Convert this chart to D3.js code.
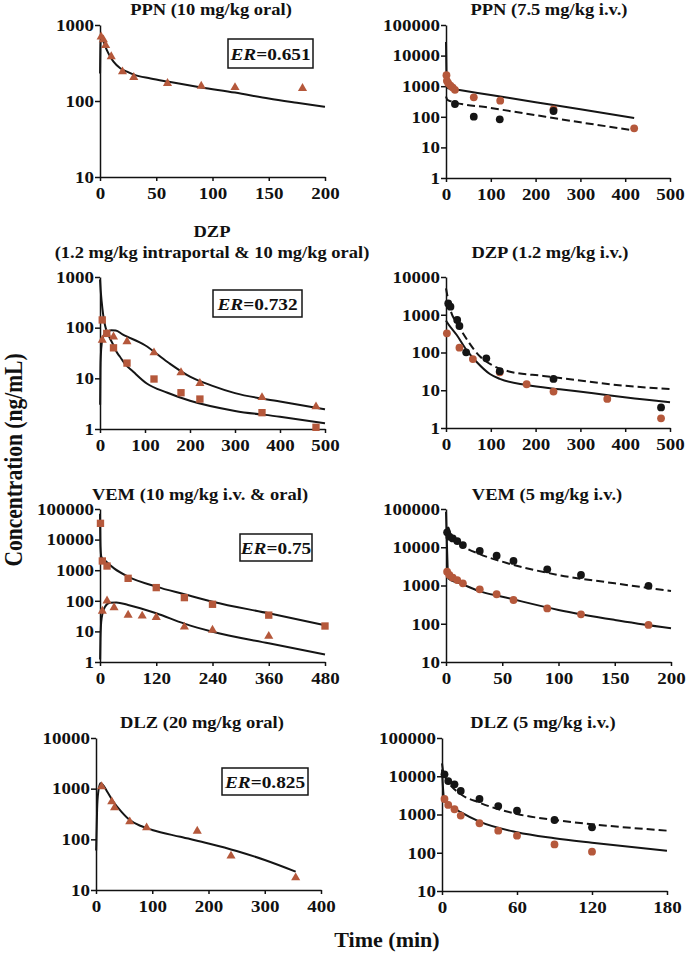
<!DOCTYPE html>
<html lang="en">
<head>
  <meta charset="UTF-8">
  <title>PK profiles</title>
  <script src="https://cdn.jsdelivr.net/npm/d3@7"></script>
  <style type="text/css">
    body { margin:0; background:#fff; }
    svg { display:block; }
    text { font-family: "Liberation Serif", "Times New Roman", serif; font-weight: bold; fill:#111; }
    .axis path, .axis line { stroke:#111; stroke-width:1.5px; }
  </style>
</head>
<body>
<svg id="chart" width="686" height="956"></svg>
<script>

  const rust = '#b5583b', ink = '#151515';

  // PPN 10 mg/kg oral
  const ppnOralObs = [[1,700],[3,640],[5,540],[10,385],[20,243],[30,205],[60,171],[90,157],[120,151],[180,147]];
  const ppnOralFit = [[0.05,230],[0.5,600],[1.2,690],[2,670],[4,560],[6,470],[9,385],[12,330],[18,270],[24,243],[30,222],[45,198],[60,180],[90,151],[120,129],[150,108],[175,95],[200,84]];

  // PPN 7.5 mg/kg i.v.
  const ppnIvRust = [[1,2300],[2,1500],[5,1250],[10,1050],[15,900],[20,760],[62,434],[121,336],[240,176],[420,42]];
  const ppnIvBlack = [[20,262],[62,101],[120,83],[240,155]];
  const ppnIvSolid = [[0,28000],[1,3000],[2,950],[5,860],[20,790],[100,515],[200,300],[300,178],[420,92]];
  const ppnIvDashed = [[0,460],[3,360],[10,325],[100,195],[200,113],[300,66],[420,36]];

  // DZP 1.2 mg/kg intraportal & 10 mg/kg oral
  const dzpPortalObs = [[5,142],[15,77],[30,40],[60,20],[120,9.7],[180,5.2],[222,3.9],[360,2.1],[480,1.08]];
  const dzpOralObs = [[5,57],[15,75],[30,66],[60,53],[120,32],[180,13],[222,8],[360,4.2],[480,2.75]];
  const dzpPortalFit = [[0,900],[1.5,550],[3.7,326],[7,180],[11,113],[16,80],[22,62],[30,45],[37,33],[44,27],[55,19.5],[74,13.5],[104,7.9],[150,5.2],[200,3.6],[300,2.27],[400,1.75],[500,1.3]];
  const dzpOralFit = [[0.3,3],[1,15],[2,30],[4,50],[8,70],[15,82],[25,89],[35,88],[50,74],[100,45],[150,21],[200,10.8],[250,7.1],[300,5.1],[400,3.5],[500,2.45]];

  // DZP 1.2 mg/kg i.v.
  const dzpIvBlack = [[5,2000],[10,1640],[25,726],[30,503],[45,101],[90,70],[120,32],[240,20],[480,3.5]];
  const dzpIvRust = [[2,322],[30,134],[60,67],[120,30],[180,14.4],[240,9.2],[360,5.9],[480,1.8]];
  const dzpIvDashed = [[0,5000],[9,1480],[27,537],[50,193],[76,78],[102,47],[143,31],[217,24],[292,18.6],[366,14.4],[500,10.7]];
  const dzpIvSolid = [[0,700],[1.5,655],[24,290],[46,116],[68,57],[98,27],[120,20],[180,13.8],[254,10.6],[329,8.3],[403,6.4],[500,4.8]];

  // VEM 10 mg/kg i.v. & oral
  const vemIvSq = [[1,34000],[5,2000],[15,1370],[60,543],[120,270],[180,127],[240,77],[360,34],[480,15]];
  const vemOralTri = [[5,46],[15,100],[30,60],[60,34],[90,32],[120,29],[180,14],[240,11],[360,7]];
  const vemIvFit = [[0,70000],[1,6000],[3,2700],[10,2100],[30,1150],[60,614],[120,290],[180,163],[240,93],[360,39],[480,16]];
  const vemOralFit = [[0.2,1.2],[1,6],[2,15],[3.5,27],[10.7,64],[21,87],[35,88],[60,73],[120,39],[180,18],[240,9.8],[360,4.1],[480,1.77]];

  // VEM 5 mg/kg i.v.
  const vemIvBlack = [[1,24500],[3,18900],[6,17000],[10,14500],[15,11400],[30,8000],[45,6000],[60,4380],[90,2640],[120,1880],[180,980]];
  const vemIvRust = [[1,2300],[3,1880],[6,1600],[10,1390],[15,1140],[30,794],[45,590],[60,418],[90,252],[120,176],[180,93]];
  const vemIvDashed = [[0,25000],[2,33000],[4,22000],[9.5,15500],[15,11000],[30,6600],[50,4200],[100,1880],[150,1140],[200,718]];
  const vemIvSolid = [[0,85000],[1,8000],[2,1550],[15,1070],[30,700],[50,510],[100,230],[150,126],[200,76]];

  // DLZ 20 mg/kg oral
  const dlzOralObs = [[10,1100],[28,553],[33,421],[60,223],[90,170],[180,146],[240,47],[355,17.5]];
  const dlzOralFit = [[0.3,60],[2,400],[4,850],[8,1280],[12,1200],[20,870],[30,571],[45,352],[60,240],[80,183],[100,153],[150,112],[200,83],[250,59],[300,39],[355,23]];

  // DLZ 5 mg/kg i.v.
  const dlzIvBlack = [[2,11200],[5,7500],[10,6160],[15,4110],[30,2540],[45,1660],[60,1260],[90,718],[120,462]];
  const dlzIvRust = [[2,2540],[5,1780],[10,1370],[15,935],[30,590],[45,378],[60,279],[90,165],[120,107]];
  const dlzIvDashed = [[0,21700],[1,13000],[3,8900],[5,7000],[15,3390],[30,2040],[60,1030],[90,718],[120,555],[180,378]];
  const dlzIvSolid = [[0,15000],[1,4000],[2,2250],[5,1860],[15,1150],[30,650],[60,343],[90,240],[120,183],[180,113]];

  const titles = [
    ['PPN (10 mg/kg oral)'], ['PPN (7.5 mg/kg i.v.)'],
    ['DZP', '(1.2 mg/kg intraportal & 10 mg/kg oral)'], ['DZP (1.2 mg/kg i.v.)'],
    ['VEM (10 mg/kg i.v. & oral)'], ['VEM (5 mg/kg i.v.)'],
    ['DLZ (20 mg/kg oral)'], ['DLZ (5 mg/kg i.v.)']
  ];
  const erValues = ['0.651', null, '0.732', null, '0.75', null, '0.825', null];
  const xDomains = [[0,200],[0,500],[0,500],[0,500],[0,480],[0,200],[0,400],[0,180]];
  const xTickSteps = [50,100,100,100,120,50,100,60];
  const yDomains = [[10,1e3],[1,1e5],[1,1e3],[1,1e4],[1,1e5],[10,1e5],[10,1e4],[10,1e5]];

  // layout per panel: plot box, title spot, ER box
  const frames = [
    {l:100, r:325, t:25,  b:177, tx:211, ty:15,  er:[228,39,85,29]},
    {l:446, r:670, t:25,  b:178, tx:549, ty:15},
    {l:100, r:325, t:277, b:429, tx:212, ty:237, er:[213,290,89,27]},
    {l:446, r:670, t:277, b:428, tx:550, ty:258},
    {l:100, r:325, t:509, b:662, tx:200, ty:500, er:[240,534,72,27]},
    {l:446, r:671, t:509, b:662, tx:547, ty:500},
    {l:96,  r:321, t:738, b:890, tx:202, ty:728, er:[222,768,86,27]},
    {l:442, r:667, t:738, b:891, tx:543, ty:728}
  ];

  const panels = [
    {fits:[[ppnOralFit,false]], marks:[[ppnOralObs,'tri',rust]]},
    {fits:[[ppnIvSolid,false],[ppnIvDashed,true]], marks:[[ppnIvRust,'dot',rust],[ppnIvBlack,'dot',ink]]},
    {fits:[[dzpPortalFit,false],[dzpOralFit,false]], marks:[[dzpPortalObs,'sq',rust],[dzpOralObs,'tri',rust]]},
    {fits:[[dzpIvSolid,false],[dzpIvDashed,true]], marks:[[dzpIvRust,'dot',rust],[dzpIvBlack,'dot',ink]]},
    {fits:[[vemIvFit,false],[vemOralFit,false]], marks:[[vemIvSq,'sq',rust],[vemOralTri,'tri',rust]]},
    {fits:[[vemIvSolid,false],[vemIvDashed,true]], marks:[[vemIvRust,'dot',rust],[vemIvBlack,'dot',ink]]},
    {fits:[[dlzOralFit,false]], marks:[[dlzOralObs,'tri',rust]]},
    {fits:[[dlzIvSolid,false],[dlzIvDashed,true]], marks:[[dlzIvRust,'dot',rust],[dlzIvBlack,'dot',ink]]}
  ];

  const svg = d3.select('#chart');

  // widen glyphs a little, the source figure is drawn slightly stretched
  function stretch(sel, k) {
    sel.each(function() {
      const w = this.getComputedTextLength();
      d3.select(this).attr('textLength', w * k).attr('lengthAdjust', 'spacingAndGlyphs');
    });
  }

  const triangle = d3.symbol().type(d3.symbolTriangle).size(36);
  const square = d3.symbol().type(d3.symbolSquare).size(54);

  function drawPanel(p, i) {
    const f = frames[i];
    const x = d3.scaleLinear().domain(xDomains[i]).range([f.l, f.r]);
    const y = d3.scaleLog().domain(yDomains[i]).range([f.b, f.t]);
    const g = svg.append('g');

    const [x0, x1] = xDomains[i];
    const xAxis = d3.axisBottom(x).tickValues(d3.range(x0, x1 + 1, xTickSteps[i]))
      .tickSize(4).tickSizeOuter(0).tickPadding(6);
    const decades = d3.range(Math.log10(yDomains[i][0]), Math.log10(yDomains[i][1]) + 1).map(e => Math.pow(10, e));
    const yAxis = d3.axisLeft(y).tickValues(decades).tickFormat(d3.format('d'))
      .tickSize(5).tickSizeOuter(0).tickPadding(1);

    const gx = g.append('g').attr('class', 'axis').attr('transform', `translate(0,${f.b})`).call(xAxis);
    const gy = g.append('g').attr('class', 'axis').attr('transform', `translate(${f.l},0)`).call(yAxis);
    [gx, gy].forEach(a => {
      a.selectAll('text').attr('font-size', 16.5).attr('fill', '#111')
        .style('font-family', '"Liberation Serif", serif').style('font-weight', 'bold');
      stretch(a.selectAll('text'), 1.15);
    });

    const line = d3.line().x(d => x(d[0])).y(d => y(d[1])).curve(d3.curveMonotoneX);
    p.fits.forEach(([pts, dashed]) => {
      g.append('path').datum(pts).attr('d', line)
        .attr('fill', 'none').attr('stroke', ink).attr('stroke-width', 2)
        .attr('stroke-dasharray', dashed ? '8,4' : null);
    });

    p.marks.forEach(([pts, shape, color]) => {
      const m = g.append('g').attr('fill', color);
      if (shape === 'dot') {
        m.selectAll('circle').data(pts).join('circle')
          .attr('cx', d => x(d[0])).attr('cy', d => y(d[1])).attr('r', 3.9);
      } else {
        m.selectAll('path').data(pts).join('path')
          .attr('d', shape === 'tri' ? triangle : square)
          .attr('transform', d => `translate(${x(d[0])},${y(d[1])})`);
      }
    });

    const tt = g.append('g');
    titles[i].forEach((s, k) => {
      tt.append('text').attr('x', f.tx).attr('y', f.ty + k * 21)
        .attr('text-anchor', 'middle').attr('font-size', 16.5).text(s);
    });
    stretch(tt.selectAll('text'), 1.12);

    if (erValues[i]) {
      const [bx, by, bw, bh] = f.er;
      g.append('rect').attr('x', bx).attr('y', by).attr('width', bw).attr('height', bh)
        .attr('fill', 'none').attr('stroke', ink).attr('stroke-width', 1.5);
      const t = g.append('text').attr('x', bx + bw / 2).attr('y', by + bh / 2 + 6)
        .attr('text-anchor', 'middle').attr('font-size', 16.5);
      t.append('tspan').attr('font-style', 'italic').text('ER');
      t.append('tspan').text('=' + erValues[i]);
      stretch(t, 1.17);
    }
  }

  panels.forEach(drawPanel);

  svg.append('text').attr('transform', 'translate(13,460) scale(1.15,1) rotate(-90)')
    .attr('text-anchor', 'middle').attr('dy', '0.35em').attr('font-size', 21.5)
    .text('Concentration (ng/mL)');

  svg.append('text').attr('x', 387).attr('y', 947).attr('text-anchor', 'middle')
    .attr('font-size', 22).text('Time (min)');

</script>
</body>
</html>
